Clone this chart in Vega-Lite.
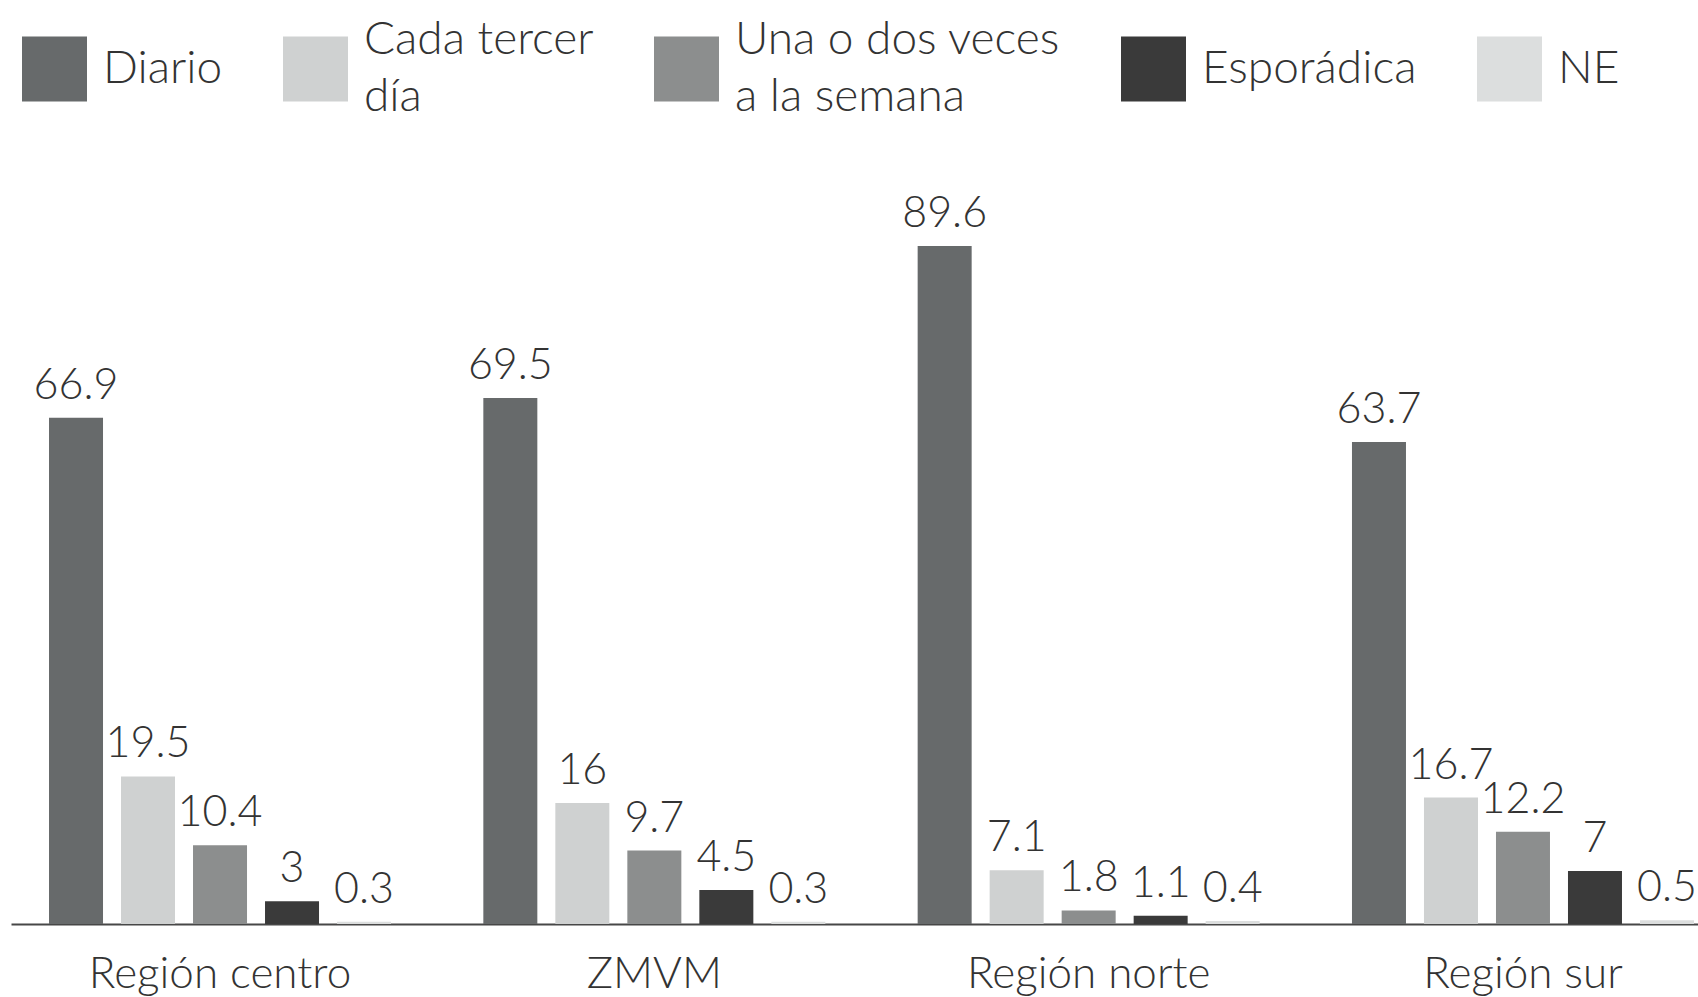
{
  "$schema": "https://vega.github.io/schema/vega-lite/v6.json",
  "width": 1698,
  "height": 924,
  "autosize": {"type": "none"},
  "padding": {"left": 0, "top": 0, "right": 0, "bottom": 73},
  "background": "white",
  "data": {
    "values": [
      {"region": "Región centro", "freq": "Diario", "value": 66.9},
      {"region": "Región centro", "freq": "Cada tercer día", "value": 19.5},
      {"region": "Región centro", "freq": "Una o dos veces a la semana", "value": 10.4},
      {"region": "Región centro", "freq": "Esporádica", "value": 3},
      {"region": "Región centro", "freq": "NE", "value": 0.3},
      {"region": "ZMVM", "freq": "Diario", "value": 69.5},
      {"region": "ZMVM", "freq": "Cada tercer día", "value": 16},
      {"region": "ZMVM", "freq": "Una o dos veces a la semana", "value": 9.7},
      {"region": "ZMVM", "freq": "Esporádica", "value": 4.5},
      {"region": "ZMVM", "freq": "NE", "value": 0.3},
      {"region": "Región norte", "freq": "Diario", "value": 89.6},
      {"region": "Región norte", "freq": "Cada tercer día", "value": 7.1},
      {"region": "Región norte", "freq": "Una o dos veces a la semana", "value": 1.8},
      {"region": "Región norte", "freq": "Esporádica", "value": 1.1},
      {"region": "Región norte", "freq": "NE", "value": 0.4},
      {"region": "Región sur", "freq": "Diario", "value": 63.7},
      {"region": "Región sur", "freq": "Cada tercer día", "value": 16.7},
      {"region": "Región sur", "freq": "Una o dos veces a la semana", "value": 12.2},
      {"region": "Región sur", "freq": "Esporádica", "value": 7},
      {"region": "Región sur", "freq": "NE", "value": 0.5}
    ]
  },
  "encoding": {
    "x": {
      "field": "region",
      "type": "nominal",
      "sort": ["Región centro", "ZMVM", "Región norte", "Región sur"],
      "scale": {"range": [11, 1732], "paddingInner": 0.1711, "paddingOuter": 0.0668},
      "axis": {
        "title": null,
        "labelAngle": 0,
        "ticks": false,
        "domain": true,
        "domainColor": "#474747",
        "domainWidth": 2,
        "labelFont": "Lato",
        "labelFontWeight": 300,
        "labelFontSize": 44,
        "labelColor": "#333333",
        "labelLimit": 600,
        "labelPadding": 28
      }
    },
    "xOffset": {
      "field": "freq",
      "type": "nominal",
      "sort": ["Diario", "Cada tercer día", "Una o dos veces a la semana", "Esporádica", "NE"],
      "scale": {"paddingInner": 0.25, "paddingOuter": 0.125}
    },
    "y": {
      "field": "value",
      "type": "quantitative",
      "scale": {"domain": [0, 122.1], "nice": false, "zero": true},
      "axis": null
    }
  },
  "layer": [
    {
      "mark": {"type": "bar"},
      "encoding": {
        "color": {
          "field": "freq",
          "type": "nominal",
          "sort": ["Diario", "Cada tercer día", "Una o dos veces a la semana", "Esporádica", "NE"],
          "scale": {
            "domain": ["Diario", "Cada tercer día", "Una o dos veces a la semana", "Esporádica", "NE"],
            "range": ["#676a6b", "#cfd1d1", "#8c8e8e", "#3a3a3a", "#dcdede"]
          },
          "legend": {
            "title": null,
            "orient": "none",
            "legendX": 22,
            "legendY": 9,
            "direction": "horizontal",
            "columns": 5,
            "clipHeight": 120,
            "symbolType": "square",
            "symbolSize": 4225,
            "symbolStrokeWidth": 0,
            "labelFont": "Lato",
            "labelFontWeight": 300,
            "labelFontSize": 46,
            "labelColor": "#333333",
            "labelLimit": 600,
            "labelOffset": 16,
            "columnPadding": 60,
            "labelExpr": "datum.label == 'Cada tercer día' ? ['Cada tercer', 'día'] : datum.label == 'Una o dos veces a la semana' ? ['Una o dos veces', 'a la semana'] : datum.label",
            "encode": {
              "labels": {
                "update": {
                  "lineHeight": {"value": 57},
                  "baseline": {"signal": "(datum.value == 'Cada tercer día' || datum.value == 'Una o dos veces a la semana') ? 'line-bottom' : 'middle'"}
                }
              }
            }
          }
        }
      }
    },
    {
      "mark": {
        "type": "text",
        "baseline": "bottom",
        "align": "center",
        "dy": -10,
        "font": "Lato",
        "fontWeight": 300,
        "fontSize": 43,
        "color": "#333333"
      },
      "encoding": {
        "text": {"field": "value", "type": "nominal"}
      }
    }
  ],
  "config": {
    "view": {"stroke": null}
  }
}
